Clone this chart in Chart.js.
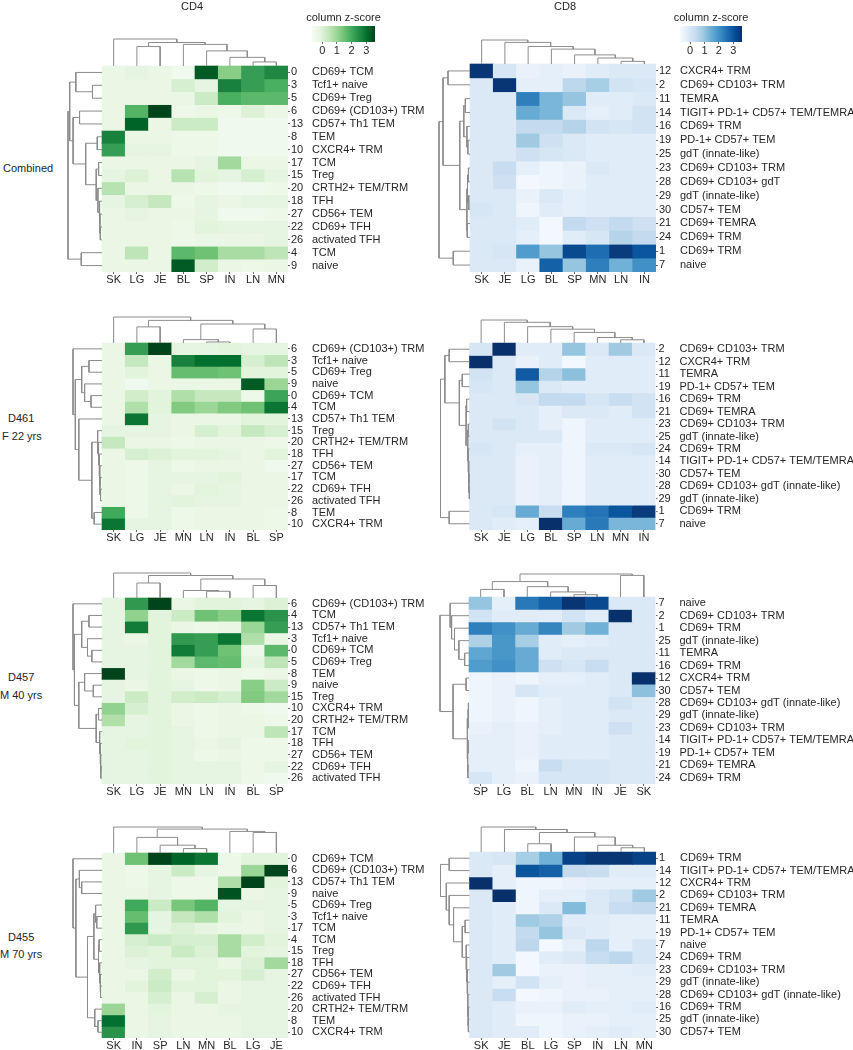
<!DOCTYPE html>
<html>
<head>
<meta charset="utf-8">
<script src="https://cdn.jsdelivr.net/npm/chart.js@4.4.1/dist/chart.umd.min.js"></script>
<style>
  body { margin: 0; background: #fff; width: 853px; height: 1050px; position: relative; overflow: hidden;
         font-family: "Liberation Sans", Arial, Helvetica, sans-serif; color: #262626; }
  canvas { position: absolute; }
  .lbl { position: absolute; font-size: 11px; line-height: 13px; white-space: nowrap; }
</style>
</head>
<body>
<script>
// colour scale shared by every heatmap
const VMIN = -0.7, VMAX = 3.6;
const colorbarTicks = [0, 1, 2, 3];
const GREENS = ["#f7fcf5", "#e5f5e0", "#c7e9c0", "#a1d99b", "#74c476", "#41ab5d", "#238b45", "#006d2c", "#00441b"];
const BLUES = ["#f7fbff", "#deebf7", "#c6dbef", "#9ecae1", "#6baed6", "#4292c6", "#2171b5", "#08519c", "#08306b"];

// ---- CD4, combined ----
const cd4CombCols = ["SK", "LG", "JE", "BL", "SP", "IN", "LN", "MN"];
const cd4CombIds = [0, 3, 5, 6, 13, 8, 10, 17, 15, 20, 18, 27, 22, 26, 4, 9];
const cd4CombNames = ["CD69+ TCM", "Tcf1+ naive", "CD69+ Treg", "CD69+ (CD103+) TRM", "CD57+ Th1 TEM", "TEM", "CXCR4+ TRM",
  "TCM", "Treg", "CRTH2+ TEM/TRM", "TFH", "CD56+ TEM", "CD69+ TFH", "activated TFH", "TCM", "naive"];
const cd4CombZ = [
  [-0.3, -0.2, -0.3, -0.5, 3.3, 1.2, 2.2, 2.6],
  [-0.3, -0.3, -0.3, 0.1, -0.2, 2.7, 2.2, 1.9],
  [-0.3, -0.3, -0.3, -0.3, 0.3, 1.9, 1.7, 1.7],
  [-0.3, 1.8, 3.7, -0.4, -0.3, -0.4, 0.0, -0.3],
  [-0.3, 3.2, -0.3, 0.3, 0.3, -0.5, -0.5, -0.5],
  [2.7, -0.3, -0.3, -0.4, -0.4, -0.5, -0.5, -0.5],
  [2.2, -0.2, -0.2, -0.4, -0.4, -0.5, -0.5, -0.5],
  [-0.3, -0.3, -0.3, -0.3, -0.2, 0.9, -0.3, -0.3],
  [-0.2, 0.0, -0.3, 0.6, -0.1, -0.2, 0.1, -0.2],
  [0.6, -0.3, -0.3, -0.3, -0.4, -0.5, -0.5, -0.4],
  [-0.2, 0.1, 0.4, -0.4, -0.2, -0.3, -0.2, -0.2],
  [-0.3, -0.2, -0.3, -0.3, -0.2, -0.5, -0.5, -0.4],
  [-0.3, -0.3, -0.3, -0.4, -0.1, -0.2, -0.2, -0.2],
  [-0.3, -0.3, -0.3, -0.4, -0.3, -0.3, -0.3, -0.2],
  [-0.3, 0.5, -0.3, 1.7, 1.5, 0.8, 0.8, 0.5],
  [-0.3, -0.3, -0.3, 3.3, 0.2, -0.3, -0.4, -0.3]
];
// trees: [height, left, right], leaves are positions in the order above
const cd4CombColTree = [1.0, 0, [0.87, [0.72, 1, 2], [0.8, 3, [0.56, 4, [0.32, 5, [0.15, 6, 7]]]]]];
const cd4CombRowTree = [1.0, [0.95, [0.77, 0, [0.28, 1, 2]],
  [0.85, [0.66, 3, 4], [0.48, [0.14, 5, 6], [0.17, [0.1, 7, 8], [0.12, 9, [0.08, 10, [0.06, 11, [0.05, 12, 13]]]]]]]],
  [0.61, 14, 15]];

// ---- CD8, combined ----
const cd8CombCols = ["SK", "JE", "LG", "BL", "SP", "MN", "LN", "IN"];
const cd8CombIds = [12, 2, 11, 14, 16, 19, 25, 23, 28, 29, 30, 21, 24, 1, 7];
const cd8CombNames = ["CXCR4+ TRM", "CD69+ CD103+ TRM", "TEMRA", "TIGIT+ PD-1+ CD57+ TEM/TEMRA", "CD69+ TRM", "PD-1+ CD57+ TEM",
  "gdT (innate-like)", "CD69+ CD103+ TRM", "CD69+ CD103+ gdT", "gdT (innate-like)", "CD57+ TEM", "CD69+ TEMRA", "CD69+ TRM",
  "CD69+ TRM", "naive"];
const cd8CombZ = [
  [3.5, 0.0, -0.4, -0.3, -0.4, -0.2, -0.1, -0.1],
  [-0.1, 3.5, -0.3, -0.3, 0.5, 0.8, 0.1, 0.0],
  [-0.1, -0.1, 2.3, 1.3, 1.0, -0.2, -0.2, -0.1],
  [-0.1, -0.1, 1.5, 1.3, -0.1, -0.3, -0.2, 0.1],
  [-0.1, -0.1, 0.4, 0.4, 0.6, 0.1, 0.0, 0.1],
  [-0.1, -0.1, 0.9, 0.2, -0.1, -0.2, -0.2, -0.2],
  [-0.1, -0.1, 0.2, 0.0, -0.1, -0.2, -0.2, -0.2],
  [-0.1, 0.3, -0.3, -0.5, -0.4, -0.1, -0.2, -0.2],
  [-0.1, 0.2, -0.6, -0.5, -0.4, -0.2, -0.2, -0.2],
  [-0.1, -0.1, -0.4, -0.1, -0.3, -0.2, -0.2, -0.2],
  [0.0, -0.1, -0.5, -0.2, -0.3, -0.2, -0.2, -0.2],
  [-0.1, -0.1, -0.2, -0.6, 0.4, 0.2, 0.4, 0.2],
  [-0.1, -0.1, -0.3, -0.6, -0.2, 0.0, 0.6, 0.4],
  [-0.1, 0.0, 1.8, 1.0, 3.2, 2.6, 3.4, 3.0],
  [-0.1, -0.1, -0.4, 2.8, 1.0, 2.3, 1.4, 2.0]
];
const cd8CombColTree = [1.0, 0, [0.9, 1, [0.73, 2, [0.62, 3, [0.38, 4, [0.25, 5, [0.11, 6, 7]]]]]]];
const cd8CombRowTree = [1.0, [0.87, [0.71, 0, 1],
  [0.33, [0.2, [0.15, 2, 3], [0.1, 4, [0.07, 5, 6]]], [0.1, [0.08, [0.05, 7, 8], [0.04, 9, 10]], [0.09, 11, 12]]]],
  [0.54, 13, 14]];

// ---- CD4, D461 ----
const cd4D461Cols = ["SK", "LG", "JE", "MN", "LN", "IN", "BL", "SP"];
const cd4D461Ids = [6, 3, 5, 9, 0, 4, 13, 15, 20, 18, 27, 17, 22, 26, 8, 10];
const cd4D461Names = ["CD69+ (CD103+) TRM", "Tcf1+ naive", "CD69+ Treg", "naive", "CD69+ TCM", "TCM", "CD57+ Th1 TEM", "Treg",
  "CRTH2+ TEM/TRM", "TFH", "CD56+ TEM", "TCM", "CD69+ TFH", "activated TFH", "TEM", "CXCR4+ TRM"];
const cd4D461Z = [
  [-0.3, 2.2, 3.8, -0.2, -0.2, -0.1, -0.2, -0.2],
  [-0.3, 0.4, -0.3, 2.7, 3.0, 3.0, 0.1, 0.5],
  [-0.3, -0.1, -0.3, 1.6, 1.6, 1.5, -0.1, -0.1],
  [-0.3, -0.5, -0.3, -0.3, -0.3, -0.3, 3.3, 1.0],
  [-0.3, 0.2, -0.1, 0.7, 0.4, 0.4, -0.4, 2.1],
  [-0.3, 0.7, -0.1, 1.3, 1.0, 1.3, 1.5, 2.9],
  [-0.3, 2.9, -0.2, -0.3, -0.3, -0.3, -0.1, -0.1],
  [-0.2, -0.2, -0.2, -0.3, 0.1, -0.1, 0.4, 0.1],
  [0.4, -0.3, -0.3, -0.4, -0.3, -0.3, -0.3, -0.4],
  [-0.3, 0.1, 0.0, -0.1, -0.1, -0.2, -0.3, -0.1],
  [-0.3, -0.4, -0.2, -0.4, -0.3, -0.3, -0.3, -0.5],
  [-0.3, -0.4, -0.2, -0.2, -0.2, -0.1, -0.3, -0.3],
  [-0.3, -0.4, -0.2, -0.3, -0.1, -0.2, -0.3, -0.3],
  [-0.3, -0.4, -0.2, -0.1, -0.2, -0.2, -0.3, -0.3],
  [2.0, -0.4, -0.2, -0.4, -0.3, -0.3, -0.3, -0.4],
  [2.9, -0.2, -0.2, -0.4, -0.3, -0.3, -0.3, -0.4]
];
const cd4D461ColTree = [1.0, 0, [0.87, [0.62, 1, 2], [0.73, [0.13, 3, [0.04, 4, 5]], [0.54, 6, 7]]]];
const cd4D461RowTree = [1.0, 0, [0.92, [0.7, [0.45, 1, 2], [0.6, 3, [0.38, 4, 5]]],
  [0.8, 6, [0.35, [0.15, 7, [0.12, 8, [0.1, 9, [0.08, 10, [0.07, 11, [0.05, 12, 13]]]]]], [0.27, 14, 15]]]]];

// ---- CD8, D461 ----
const cd8D461Cols = ["SK", "JE", "LG", "BL", "SP", "LN", "MN", "IN"];
const cd8D461Ids = [2, 12, 11, 19, 16, 21, 23, 25, 24, 14, 30, 28, 29, 1, 7];
const cd8D461Names = ["CD69+ CD103+ TRM", "CXCR4+ TRM", "TEMRA", "PD-1+ CD57+ TEM", "CD69+ TRM", "CD69+ TEMRA", "CD69+ CD103+ TRM",
  "gdT (innate-like)", "CD69+ TRM", "TIGIT+ PD-1+ CD57+ TEM/TEMRA", "CD57+ TEM", "CD69+ CD103+ gdT (innate-like)",
  "gdT (innate-like)", "CD69+ TRM", "naive"];
const cd8D461Z = [
  [0.0, 3.6, -0.2, -0.2, 1.0, -0.1, 0.9, -0.1],
  [3.6, -0.1, -0.4, -0.2, -0.6, -0.2, -0.2, -0.2],
  [0.1, -0.1, 2.9, 0.6, 1.1, -0.2, -0.2, -0.2],
  [0.0, -0.1, 1.0, -0.1, -0.2, -0.2, -0.2, -0.2],
  [-0.1, -0.1, 0.0, 0.4, 0.4, 0.0, 0.3, 0.1],
  [-0.1, -0.1, -0.1, -0.3, -0.1, -0.1, -0.2, 0.1],
  [-0.1, 0.1, -0.1, -0.3, -0.5, -0.2, -0.2, -0.2],
  [-0.1, -0.1, -0.1, -0.1, -0.5, -0.2, -0.2, -0.2],
  [0.0, -0.1, -0.3, -0.3, -0.5, -0.1, -0.1, 0.0],
  [-0.1, -0.1, -0.4, -0.3, -0.5, -0.2, -0.2, -0.2],
  [-0.1, -0.1, -0.4, -0.3, -0.5, -0.2, -0.2, -0.2],
  [-0.1, -0.1, -0.4, -0.3, -0.5, -0.2, -0.2, -0.2],
  [-0.1, -0.1, -0.4, -0.3, -0.5, -0.2, -0.2, -0.2],
  [-0.1, 0.0, 1.5, 0.3, 2.3, 2.5, 3.0, 3.4],
  [-0.1, -0.2, -0.3, 3.6, 1.5, 2.4, 1.3, 1.3]
];
const cd8D461ColTree = [1.0, 0, [0.9, 1, [0.71, 2, [0.6, 3, [0.46, 4, [0.24, 5, [0.14, 6, 7]]]]]]];
const cd8D461RowTree = [1.0, [0.85, [0.7, 0, 1],
  [0.35, [0.25, 2, 3], [0.12, [0.1, 4, 5], [0.06, [0.04, 6, 7], [0.05, 8, [0.03, 9, [0.02, 10, [0.01, 11, 12]]]]]]]],
  [0.7, 13, 14]];

// ---- CD4, D457 ----
const cd4D457Cols = ["SK", "LG", "JE", "MN", "LN", "IN", "BL", "SP"];
const cd4D457Ids = [6, 4, 13, 3, 0, 5, 8, 9, 15, 10, 20, 17, 18, 27, 22, 26];
const cd4D457Names = ["CD69+ (CD103+) TRM", "TCM", "CD57+ Th1 TEM", "Tcf1+ naive", "CD69+ TCM", "CD69+ Treg", "TEM", "naive",
  "Treg", "CXCR4+ TRM", "CRTH2+ TEM/TRM", "TCM", "TFH", "CD56+ TEM", "CD69+ TFH", "activated TFH"];
const cd4D457Z = [
  [-0.2, 2.3, 3.8, -0.3, -0.1, -0.1, -0.2, 0.0],
  [-0.2, 1.1, -0.1, 0.3, 1.5, 1.2, 2.9, 2.4],
  [-0.2, 2.8, -0.1, -0.3, -0.4, -0.3, 1.0, 2.2],
  [-0.2, -0.3, -0.1, 2.3, 2.2, 2.9, 0.7, -0.3],
  [-0.2, -0.2, -0.1, 2.8, 2.2, 1.5, -0.4, 1.7],
  [-0.2, -0.2, -0.1, 0.9, 1.7, 1.6, -0.2, 0.5],
  [3.7, -0.2, -0.1, -0.3, -0.4, -0.3, -0.4, -0.3],
  [-0.2, -0.3, -0.1, -0.2, -0.4, -0.3, 1.2, 0.3],
  [-0.2, 0.3, -0.1, 0.2, 0.3, 0.1, 1.3, 0.9],
  [1.1, 0.1, -0.1, -0.3, -0.4, -0.3, -0.4, -0.5],
  [0.7, -0.2, -0.1, -0.3, -0.4, -0.3, -0.3, -0.4],
  [-0.2, -0.2, -0.1, -0.2, -0.4, -0.3, -0.3, 0.5],
  [-0.2, -0.1, -0.1, -0.2, -0.3, -0.2, -0.4, -0.4],
  [-0.2, -0.2, -0.1, -0.2, -0.4, -0.3, -0.4, -0.4],
  [-0.2, -0.2, -0.1, -0.2, -0.2, -0.2, -0.4, -0.2],
  [-0.2, -0.2, -0.1, -0.2, -0.2, -0.2, -0.4, -0.5]
];
const cd4D457ColTree = [1.0, 0, [0.9, [0.6, 1, 2], [0.76, [0.3, 3, [0.27, 4, 5]], [0.5, 6, 7]]]];
const cd4D457RowTree = [1.0, 0, [0.95, [0.7, [0.45, 1, 2], [0.5, 3, [0.35, 4, 5]]],
  [0.8, [0.6, 6, [0.3, 7, 8]], [0.2, [0.12, 9, 10], [0.08, 11, [0.06, 12, [0.05, 13, [0.04, 14, 15]]]]]]]];

// ---- CD8, D457 ----
const cd8D457Cols = ["SP", "LG", "BL", "LN", "MN", "IN", "JE", "SK"];
const cd8D457Ids = [7, 2, 1, 25, 11, 16, 12, 30, 28, 29, 23, 14, 19, 21, 24];
const cd8D457Names = ["naive", "CD69+ CD103+ TRM", "CD69+ TRM", "gdT (innate-like)", "TEMRA", "CD69+ TRM", "CXCR4+ TRM", "CD57+ TEM",
  "CD69+ CD103+ gdT (innate-like)", "gdT (innate-like)", "CD69+ CD103+ TRM", "TIGIT+ PD-1+ CD57+ TEM/TEMRA",
  "PD-1+ CD57+ TEM", "CD69+ TEMRA", "CD69+ TRM"];
const cd8D457Z = [
  [1.0, -0.3, 2.4, 2.8, 3.5, 3.2, -0.1, -0.1],
  [0.1, -0.2, -0.2, -0.2, 0.1, -0.2, 3.6, -0.1],
  [2.3, 2.0, 1.5, 2.2, 0.9, 1.4, -0.1, -0.1],
  [0.7, 1.9, 0.8, -0.2, -0.3, -0.2, -0.1, -0.1],
  [1.6, 1.9, 1.5, -0.2, -0.1, -0.1, -0.1, -0.1],
  [1.8, 2.0, 1.5, 0.2, 0.0, 0.3, -0.1, -0.1],
  [-0.5, -0.4, -0.5, -0.3, -0.3, -0.2, -0.1, 3.6],
  [-0.5, -0.4, 0.0, -0.2, -0.2, -0.2, -0.1, 1.1],
  [-0.5, -0.4, -0.5, -0.3, -0.2, -0.2, 0.1, -0.1],
  [-0.5, -0.4, -0.5, -0.3, -0.2, -0.2, -0.1, -0.1],
  [-0.4, -0.3, -0.4, -0.3, -0.2, -0.2, 0.2, -0.1],
  [-0.3, -0.3, -0.4, -0.2, -0.2, -0.2, -0.1, -0.1],
  [-0.3, -0.3, -0.4, -0.2, -0.2, -0.2, -0.1, -0.1],
  [-0.3, -0.3, -0.5, 0.3, 0.0, 0.0, -0.1, -0.1],
  [0.0, -0.3, -0.4, 0.0, 0.0, 0.0, -0.1, -0.1]
];
const cd8D457ColTree = [1.0, [0.67, [0.33, 0, 1], [0.45, 2, [0.22, 3, [0.1, 4, 5]]]], [0.94, 6, 7]];
const cd8D457RowTree = [1.0, [0.65, 0, [0.6, 1, [0.5, 2, [0.35, 3, [0.15, 4, 5]]]]],
  [0.55, [0.1, 6, 7], [0.06, [0.03, [0.02, 8, 9], 10], [0.05, [0.03, 11, 12], [0.04, 13, 14]]]]];

// ---- CD4, D455 ----
const cd4D455Cols = ["SK", "IN", "SP", "LN", "MN", "BL", "LG", "JE"];
const cd4D455Ids = [0, 6, 13, 9, 5, 3, 17, 4, 15, 18, 27, 22, 26, 20, 8, 10];
const cd4D455Names = ["CD69+ TCM", "CD69+ (CD103+) TRM", "CD57+ Th1 TEM", "naive", "CD69+ Treg", "Tcf1+ naive", "TCM", "TCM",
  "Treg", "TFH", "CD56+ TEM", "CD69+ TFH", "activated TFH", "CRTH2+ TEM/TRM", "TEM", "CXCR4+ TRM"];
const cd4D455Z = [
  [-0.3, 1.5, 3.6, 3.2, 2.9, -0.4, -0.1, -0.1],
  [-0.3, -0.4, -0.2, 0.3, -0.2, -0.4, 1.0, 3.8],
  [-0.3, -0.4, -0.2, -0.4, -0.4, 0.7, 3.6, -0.1],
  [-0.3, -0.3, -0.2, -0.4, -0.4, 3.4, -0.3, -0.2],
  [-0.3, 2.0, 0.3, 1.4, 1.8, -0.2, -0.2, -0.2],
  [-0.3, 1.6, -0.2, 0.4, 0.7, -0.1, -0.3, -0.2],
  [-0.3, 2.3, -0.2, 0.0, -0.2, -0.3, -0.3, -0.2],
  [-0.3, 0.1, 0.3, 0.1, 0.1, 0.8, 0.2, -0.1],
  [-0.3, 0.0, -0.1, 0.3, 0.0, 0.8, -0.1, -0.2],
  [-0.3, -0.2, -0.1, -0.1, -0.1, -0.3, 0.0, 0.9],
  [-0.3, -0.3, 0.2, -0.3, -0.1, -0.1, 0.1, -0.2],
  [-0.3, -0.1, 0.3, -0.1, -0.1, -0.3, -0.2, -0.2],
  [-0.3, -0.3, 0.1, -0.3, 0.1, -0.3, -0.2, -0.2],
  [1.0, -0.3, -0.1, -0.3, -0.3, -0.2, -0.2, -0.2],
  [3.0, -0.3, -0.2, -0.3, -0.3, -0.3, -0.2, -0.2],
  [2.4, -0.3, -0.2, -0.3, -0.3, -0.3, -0.2, -0.2]
];
const cd4D455ColTree = [1.0, 0, [0.92, [0.6, 1, [0.3, 2, [0.17, 3, 4]]], [0.83, 5, [0.79, 6, 7]]]];
const cd4D455RowTree = [1.0, 0, [0.9, [0.78, 1, [0.7, 2, 3]],
  [0.5, [0.28, [0.22, 4, [0.18, 5, 6]], [0.12, [0.1, 7, 8], [0.08, 9, [0.06, 10, [0.05, 11, 12]]]]], [0.25, 13, [0.14, 14, 15]]]]];

// ---- CD8, D455 ----
const cd8D455Cols = ["SK", "JE", "BL", "LG", "SP", "IN", "LN", "MN"];
const cd8D455Ids = [1, 14, 12, 2, 21, 11, 19, 7, 24, 23, 29, 28, 16, 25, 30];
const cd8D455Names = ["CD69+ TRM", "TIGIT+ PD-1+ CD57+ TEM/TEMRA", "CXCR4+ TRM", "CD69+ CD103+ TRM", "CD69+ TEMRA", "TEMRA",
  "PD-1+ CD57+ TEM", "naive", "CD69+ TRM", "CD69+ CD103+ TRM", "gdT (innate-like)", "CD69+ CD103+ gdT (innate-like)",
  "CD69+ TRM", "gdT (innate-like)", "CD57+ TEM"];
const cd8D455Z = [
  [-0.1, 0.0, 0.8, 1.4, 3.3, 3.5, 3.5, 3.3],
  [-0.1, -0.3, 3.0, 2.8, 0.4, 0.3, -0.2, -0.2],
  [3.6, -0.3, -0.5, -0.5, -0.4, -0.3, -0.3, -0.3],
  [-0.1, 3.6, -0.5, -0.3, -0.3, -0.1, 0.1, 0.9],
  [-0.1, -0.2, -0.5, -0.1, 1.2, -0.1, 0.3, 0.4],
  [-0.1, -0.2, 0.9, 0.7, -0.2, -0.2, -0.3, -0.3],
  [-0.1, -0.2, 0.4, 1.0, -0.1, -0.2, -0.3, -0.3],
  [-0.1, -0.2, 0.5, -0.6, -0.3, 0.5, -0.3, 0.0],
  [-0.1, -0.2, -0.6, -0.2, -0.1, 0.3, 0.5, 0.0],
  [-0.1, 0.9, -0.6, -0.4, -0.4, -0.3, -0.3, -0.2],
  [-0.1, -0.3, 0.1, -0.3, -0.4, -0.3, -0.3, -0.3],
  [-0.1, 0.3, -0.6, -0.5, -0.4, -0.4, -0.3, -0.3],
  [-0.1, -0.2, -0.4, -0.4, -0.2, -0.3, -0.3, -0.2],
  [-0.1, -0.2, -0.5, -0.5, -0.4, -0.4, -0.3, -0.3],
  [-0.1, -0.2, -0.2, -0.5, -0.4, -0.3, -0.2, -0.3]
];
const cd8D455ColTree = [1.0, 0, [0.9, 1, [0.78, [0.33, 2, 3], [0.6, 4, [0.27, 5, [0.17, 6, 7]]]]]];
const cd8D455RowTree = [1.0, [0.7, 0, 1], [0.8, 2, [0.7, 3, [0.55, 4,
  [0.25, [0.15, 5, 6], [0.12, 7, [0.1, 8, [0.08, 9, [0.07, 10, [0.06, 11, [0.05, 12, [0.04, 13, 14]]]]]]]]]]]];

// ---- layout (pixels): heatmap box [left, top, right, bottom], dendrogram sizes, canvas right edge ----
const panels = [
  { cols: cd4CombCols, ids: cd4CombIds, names: cd4CombNames, z: cd4CombZ, colTree: cd4CombColTree, rowTree: cd4CombRowTree,
    cmap: GREENS, box: [102, 66, 288, 272], dTop: 27, dLeft: 34, right: 430 },
  { cols: cd8CombCols, ids: cd8CombIds, names: cd8CombNames, z: cd8CombZ, colTree: cd8CombColTree, rowTree: cd8CombRowTree,
    cmap: BLUES, box: [470, 64, 656, 272], dTop: 24, dLeft: 31, right: 853 },
  { cols: cd4D461Cols, ids: cd4D461Ids, names: cd4D461Names, z: cd4D461Z, colTree: cd4D461ColTree, rowTree: cd4D461RowTree,
    cmap: GREENS, box: [102, 343, 288, 530], dTop: 26, dLeft: 29, right: 430 },
  { cols: cd8D461Cols, ids: cd8D461Ids, names: cd8D461Names, z: cd8D461Z, colTree: cd8D461ColTree, rowTree: cd8D461RowTree,
    cmap: BLUES, box: [469.5, 343, 655.5, 530], dTop: 23, dLeft: 29, right: 853 },
  { cols: cd4D457Cols, ids: cd4D457Ids, names: cd4D457Names, z: cd4D457Z, colTree: cd4D457ColTree, rowTree: cd4D457RowTree,
    cmap: GREENS, box: [102, 598, 288, 784], dTop: 25, dLeft: 29, right: 430 },
  { cols: cd8D457Cols, ids: cd8D457Ids, names: cd8D457Names, z: cd8D457Z, colTree: cd8D457ColTree, rowTree: cd8D457RowTree,
    cmap: BLUES, box: [469, 597, 655.5, 784], dTop: 23, dLeft: 29, right: 853 },
  { cols: cd4D455Cols, ids: cd4D455Ids, names: cd4D455Names, z: cd4D455Z, colTree: cd4D455ColTree, rowTree: cd4D455RowTree,
    cmap: GREENS, box: [102, 853, 288, 1038], dTop: 26, dLeft: 29, right: 430 },
  { cols: cd8D455Cols, ids: cd8D455Ids, names: cd8D455Names, z: cd8D455Z, colTree: cd8D455ColTree, rowTree: cd8D455RowTree,
    cmap: BLUES, box: [469.5, 852, 656, 1038], dTop: 25, dLeft: 29, right: 853 }
];

Chart.defaults.font.family = '"Liberation Sans", Arial, Helvetica, sans-serif';
Chart.defaults.font.size = 11;
Chart.defaults.color = "#262626";
Chart.defaults.animation = false;

const TEXT = "#262626", TREE = "#8c8c8c";

function hexRgb(h) {
  const n = parseInt(h.slice(1), 16);
  return [(n >> 16) & 255, (n >> 8) & 255, n & 255];
}

function colorFor(stops, v) {
  let t = (v - VMIN) / (VMAX - VMIN);
  t = Math.max(0, Math.min(1, t));
  const s = t * (stops.length - 1);
  const i = Math.min(Math.floor(s), stops.length - 2);
  const f = s - i;
  const a = hexRgb(stops[i]), b = hexRgb(stops[i + 1]);
  const c = a.map((x, k) => Math.round(x + (b[k] - x) * f));
  return `rgb(${c[0]},${c[1]},${c[2]})`;
}

function addCanvas(left, top, w, h) {
  const c = document.createElement("canvas");
  c.width = w;
  c.height = h;
  Object.assign(c.style, { left: left + "px", top: top + "px", width: w + "px", height: h + "px" });
  document.body.appendChild(c);
  return c;
}

function addLabel(text, left, cy, center) {
  const d = document.createElement("div");
  d.className = "lbl";
  d.textContent = text;
  d.style.left = left + "px";
  d.style.top = (cy - 6.5) + "px";
  if (center) d.style.transform = "translateX(-50%)";
  document.body.appendChild(d);
}

// walk a [height, a, b] tree and return the U-shaped links as line points
function treePoints(tree, toXY) {
  const pts = [];
  (function walk(n) {
    if (typeof n === "number") return { p: n + 0.5, h: 0 };
    const a = walk(n[1]), b = walk(n[2]);
    pts.push(toXY(a.p, a.h), toXY(a.p, n[0]), toXY(b.p, n[0]), toXY(b.p, b.h), { x: null, y: null });
    return { p: (a.p + b.p) / 2, h: n[0] };
  })(tree);
  return pts;
}

function makePanel(p) {
  const [x0, y0, x1, y1] = p.box;
  const nC = p.cols.length, nR = p.ids.length;
  const cw = (x1 - x0) / nC, rh = (y1 - y0) / nR;
  const numW = 24, axisH = 15;
  const areaLeft = x0 - p.dLeft, areaTop = y0 - p.dTop;
  const left = Math.floor(areaLeft) - 2, top = Math.floor(areaTop) - 8;
  const W = Math.round(p.right - left), H = Math.round(y1 + axisH - top);
  const namesW = p.right - x1 - numW;
  const xMin = -p.dLeft / cw, yMin = -p.dTop / rh;

  const cells = p.z.map((row, r) => ({
    type: "bar",
    data: p.cols.map((c, i) => ({ x: i + 0.5, y: [r, r + 1] })),
    backgroundColor: row.map(v => colorFor(p.cmap, v)),
    borderWidth: 0,
    grouped: false,
    barPercentage: 1,
    categoryPercentage: 1
  }));
  const lineStyle = { type: "line", borderColor: TREE, borderWidth: 1, pointRadius: 0, fill: false, tension: 0,
    spanGaps: false, clip: false, order: -1 };
  const colTree = Object.assign({}, lineStyle,
    { data: treePoints(p.colTree, (pos, h) => ({ x: pos, y: h * yMin })) });
  const rowTree = Object.assign({}, lineStyle,
    { data: treePoints(p.rowTree, (pos, h) => ({ x: h * xMin, y: pos })) });

  const rowTicks = s => { s.ticks = p.ids.map((_, i) => ({ value: i + 0.5 })); };

  new Chart(addCanvas(left, top, W, H), {
    type: "bar",
    data: { datasets: cells.concat([colTree, rowTree]) },
    options: {
      responsive: false,
      events: [],
      layout: { padding: { left: areaLeft - left, top: areaTop - top, right: 0, bottom: 0 } },
      plugins: { legend: { display: false }, tooltip: { enabled: false } },
      scales: {
        x: {
          type: "linear", position: "bottom", min: xMin, max: nC, offset: false,
          grid: { display: true, drawOnChartArea: false, drawTicks: true, tickLength: 2, color: "#666", offset: false },
          border: { display: false },
          afterBuildTicks: s => { s.ticks = p.cols.map((_, i) => ({ value: i + 0.5 })); },
          ticks: { autoSkip: false, maxRotation: 0, padding: -1, color: TEXT, callback: (v, i) => p.cols[i] },
          afterFit: s => { s.height = axisH; }
        },
        y: {
          type: "linear", position: "right", reverse: true, min: yMin, max: nR, weight: 0, offset: false,
          grid: { display: true, drawOnChartArea: false, drawTicks: true, tickLength: 2, color: "#666", offset: false },
          border: { display: false },
          afterBuildTicks: rowTicks,
          ticks: { autoSkip: false, padding: 1, color: TEXT, callback: (v, i) => String(p.ids[i]) },
          afterFit: s => { s.width = numW; }
        },
        yName: {
          type: "linear", position: "right", reverse: true, min: yMin, max: nR, weight: 1, offset: false,
          grid: { display: false, drawTicks: false },
          border: { display: false },
          afterBuildTicks: rowTicks,
          ticks: { autoSkip: false, padding: 0, color: TEXT, callback: (v, i) => p.names[i] },
          afterFit: s => { s.width = namesW; }
        }
      }
    }
  });
}

function makeColorbar(stops, barLeft, barRight) {
  const pad = 2;
  const W = Math.round(barRight - barLeft) + 2 * pad;
  new Chart(addCanvas(barLeft - pad, 26 - pad, W, pad + 16 + 16), {
    type: "bar",
    data: {
      labels: ["z"],
      datasets: [{
        data: [[VMIN, VMAX]],
        borderWidth: 0,
        barPercentage: 1,
        categoryPercentage: 1,
        backgroundColor: ctx => {
          const ch = ctx.chart, xs = ch.scales.x;
          if (!ch.chartArea || !xs) return stops[0];
          const g = ch.ctx.createLinearGradient(xs.getPixelForValue(VMIN), 0, xs.getPixelForValue(VMAX), 0);
          stops.forEach((c, i) => g.addColorStop(i / (stops.length - 1), c));
          return g;
        }
      }]
    },
    options: {
      indexAxis: "y",
      responsive: false,
      events: [],
      layout: { padding: { left: pad, right: pad, top: pad, bottom: 0 } },
      plugins: { legend: { display: false }, tooltip: { enabled: false } },
      scales: {
        x: {
          type: "linear", min: VMIN, max: VMAX, position: "bottom",
          grid: { display: true, drawOnChartArea: false, drawTicks: true, tickLength: 2, color: "#666", offset: false },
          border: { display: false },
          afterBuildTicks: s => { s.ticks = colorbarTicks.map(v => ({ value: v })); },
          ticks: { autoSkip: false, padding: 0, color: TEXT, font: { size: 11 } },
          afterFit: s => { s.height = 16; }
        },
        y: { display: false }
      }
    }
  });
  addLabel("column z-score", (barLeft + barRight) / 2, 17, true);
}

panels.forEach(makePanel);
makeColorbar(GREENS, 312, 375);
makeColorbar(BLUES, 680, 742);

addLabel("CD4", 192, 6, true);
addLabel("CD8", 565, 6, true);
addLabel("Combined", 3, 168);
addLabel("D461", 8, 418);
addLabel("F 22 yrs", 2, 436);
addLabel("D457", 8, 677);
addLabel("M 40 yrs", 0, 695);
addLabel("D455", 8, 937);
addLabel("M 70 yrs", 0, 954);
</script>
</body>
</html>
